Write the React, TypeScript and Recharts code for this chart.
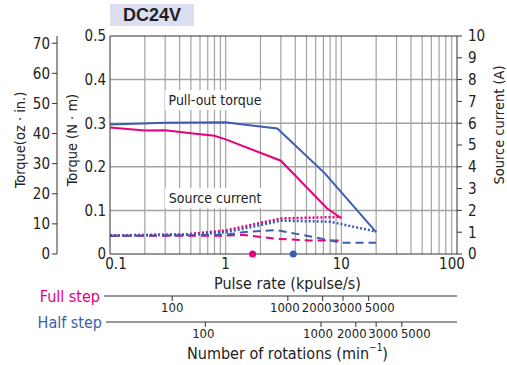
import * as React from "react";
import { ComposedChart, Line, XAxis, YAxis, ReferenceLine, ReferenceDot } from "recharts";

const FONT = "'Liberation Sans Narrow', 'DejaVu Sans Condensed', 'Roboto Condensed', sans-serif";
const PINK = "#e4007f";
const BLUE = "#3c5db1";
const GRID = "#a3a3a3";
const AXIS = "#333";
const INK = "#222";

// pulse rate (kpulse/s) -> pull-out torque (N·m)
const fullTorqueF = [0.1, 0.2, 0.3, 0.5, 0.8, 1, 3, 7.5, 10];
const fullTorque = [0.29, 0.283, 0.284, 0.277, 0.271, 0.263, 0.214, 0.105, 0.082];
const halfTorqueF = [0.1, 0.3, 1, 1.3, 2.8, 7.2, 20];
const halfTorque = [0.297, 0.301, 0.302, 0.298, 0.288, 0.185, 0.05];

// source current (A), dotted + dashed for each step mode
const fullDotF = [0.1, 0.45, 1, 1.4, 3, 10];
const fullDot = [0.85, 0.9, 1.08, 1.25, 1.63, 1.7];
const halfDotF = [0.1, 0.5, 1, 1.4, 3, 8, 20];
const halfDot = [0.85, 0.88, 1.0, 1.15, 1.53, 1.48, 1.03];
const fullDashF = [0.1, 1, 1.4, 2.7, 5.3, 10];
const fullDash = [0.84, 0.84, 0.88, 0.7, 0.62, 0.62];
const halfDashF = [0.1, 1, 1.4, 2.7, 5, 10, 20];
const halfDash = [0.83, 0.88, 1.0, 1.1, 0.84, 0.52, 0.52];

// markers on the pulse-rate axis
const markF = [1.71, 3.84];
const markColor = [PINK, BLUE];

// axes / grid
const pulseTicks = [0.1, 1, 10, 100];
const gridX = [0.2, 0.3, 0.4, 0.5, 0.6, 0.7, 0.8, 0.9, 1, 2, 3, 4, 5, 6, 7, 8, 9, 10, 20, 30, 40, 50, 60, 70, 80, 90];
const gridY = [0.1, 0.2, 0.3, 0.4];
const nmTicks = [0, 0.1, 0.2, 0.3, 0.4, 0.5];
const ozTicks = [0, 10, 20, 30, 40, 50, 60, 70];
const ampTicks = [0, 1, 2, 3, 4, 5, 6, 7, 8, 9, 10];
const rpmTicks = [100, 1000, 2000, 3000, 5000];
// label nudges so crowded labels sit side by side
const pulseNudge = [6, 0, 0, -5];
const fullNudge = [0, -3, -6, 4, 11];
const halfNudge = [-2, -3, -4, 7, 14];

const pts = (xs: number[], ys: number[]) => xs.map((f, i) => ({ f, v: ys[i] }));

const rotLabel = (text: string, dx: number, dy: number, angle = -90) => (props: any) => {
  const { x, y, height } = props.viewBox;
  const cx = x + dx;
  const cy = y + height / 2 + dy;
  return (
    <text x={cx} y={cy} transform={`rotate(${angle} ${cx} ${cy})`} textAnchor="middle"
      dominantBaseline="central" fontSize={14.5} fill={INK} fontFamily={FONT}>
      {text}
    </text>
  );
};

const nudgedTick = (ticks: number[], nudge: number[], size: number) => (p: any) => {
  const i = ticks.indexOf(p.payload.value);
  return (
    <text x={p.x + (nudge[i] || 0)} y={p.y} dy="0.71em" textAnchor="middle" fontSize={size}
      fill={INK} fontFamily={FONT}>
      {p.payload.value}
    </text>
  );
};

const stepLabel = (text: string, color: string, gap: number, title?: boolean) => (props: any) => {
  const { x, y, width } = props.viewBox;
  return (
    <g fontFamily={FONT}>
      <text x={x - gap - 4} y={y} textAnchor="end" dominantBaseline="central" fontSize={16} fill={color}>
        {text}
      </text>
      <line x1={x - gap} x2={x} y1={y} y2={y} stroke={AXIS} strokeWidth={1} />
      {title && (
        <text x={x + width / 2 + 4} y={y + 31} textAnchor="middle" dominantBaseline="central" fontSize={16} fill={INK}>
          Number of rotations (min
          <tspan fontSize={10} dy={-6}>−1</tspan>
          <tspan dy={6}>)</tspan>
        </text>
      )}
    </g>
  );
};

const note = (text: string) => (p: any) => (
  <g fontFamily={FONT}>
    <rect x={p.cx - 50} y={p.cy - 10} width={100} height={20} fill="#fff" />
    <text x={p.cx} y={p.cy} textAnchor="middle" dominantBaseline="central" fontSize={14} fill={INK}>
      {text}
    </text>
  </g>
);

const tickStyle = { fontSize: 15, fill: INK, fontFamily: FONT };

export default function App() {
  return (
    <div style={{ position: "relative", width: 507, height: 365, background: "#fff" }}>
      <style>{"body{margin:0}"}</style>
      <div
        style={{
          position: "absolute", left: 110, top: 4, width: 84, height: 22, background: "#dcdff1",
          fontFamily: "'Liberation Sans', Arial, sans-serif", fontWeight: 700, fontSize: 18,
          color: "#231f20", textAlign: "center", lineHeight: "22px",
        }}
      >
        DC24V
      </div>
      <ComposedChart width={507} height={365} margin={{ top: 36, right: 0, bottom: 0, left: 0 }}>
        <XAxis xAxisId="x0" type="number" dataKey="f" scale="log" domain={[0.1, 100]} allowDataOverflow
          ticks={pulseTicks} interval={0} tickLine={false} tickSize={2} tickMargin={2} height={42}
          stroke={AXIS} tick={nudgedTick(pulseTicks, pulseNudge, 15)}
          label={(props: any) => {
            const { x, y, width } = props.viewBox;
            return (
              <text x={x + width / 2 + 4} y={y + 29} textAnchor="middle" dominantBaseline="central"
                fontSize={16} fill={INK} fontFamily={FONT}>
                Pulse rate (kpulse/s)
              </text>
            );
          }} />
        <XAxis xAxisId="x1" type="number" dataKey="rpm" scale="log" domain={[29, 29000]} allowDataOverflow
          ticks={rpmTicks} interval={0} tickSize={5} tickMargin={2} height={26} stroke={AXIS}
          tick={nudgedTick(rpmTicks, fullNudge, 13)} label={stepLabel("Full step", PINK, 6)} />
        <XAxis xAxisId="x2" type="number" dataKey="rpm" scale="log" domain={[15, 15000]} allowDataOverflow
          ticks={rpmTicks} interval={0} tickSize={5} tickMargin={2} height={43} stroke={AXIS}
          tick={nudgedTick(rpmTicks, halfNudge, 13)} label={stepLabel("Half step", BLUE, 4, true)} />

        <YAxis yAxisId="nm" orientation="left" type="number" domain={[0, 0.5]} ticks={nmTicks} interval={0}
          width={53} tickLine={false} tickSize={2} tickMargin={2} stroke={AXIS} tick={tickStyle}
          tickFormatter={(v) => (v === 0 ? "0" : v.toFixed(1))}
          label={rotLabel("Torque (N · m)", 15, -5)} />
        <YAxis yAxisId="oz" orientation="left" type="number" domain={[0, 72.4]} allowDataOverflow ticks={ozTicks}
          interval={0} width={57} tickSize={5} tickMargin={2} stroke={AXIS} tick={tickStyle}
          label={rotLabel("Torque(oz · in.)", 20, -5)} />
        <YAxis yAxisId="a" orientation="right" type="number" domain={[0, 10]} ticks={ampTicks} interval={0}
          width={50} tickSize={5} tickMargin={6} stroke={AXIS} tick={tickStyle}
          label={rotLabel("Source current (A)", 42, -20)} />

        {gridX.map((g) => (
          <ReferenceLine key={`gx${g}`} xAxisId="x0" yAxisId="nm" x={g} stroke={GRID} strokeWidth={1.2} />
        ))}
        {gridY.map((g) => (
          <ReferenceLine key={`gy${g}`} xAxisId="x0" yAxisId="nm" y={g} stroke={GRID} strokeWidth={1.5} />
        ))}
        <ReferenceLine xAxisId="x0" yAxisId="nm" y={0.5} stroke={AXIS} strokeWidth={1.2} />

        <ReferenceDot xAxisId="x0" yAxisId="nm" x={0.81} y={0.353} r={1} shape={note("Pull-out torque")} />
        <ReferenceDot xAxisId="x0" yAxisId="nm" x={0.81} y={0.128} r={1} shape={note("Source current")} />

        <Line xAxisId="x0" yAxisId="nm" data={pts(fullTorqueF, fullTorque)} dataKey="v" type="linear"
          stroke={PINK} strokeWidth={2} dot={false} isAnimationActive={false} />
        <Line xAxisId="x0" yAxisId="nm" data={pts(halfTorqueF, halfTorque)} dataKey="v" type="linear"
          stroke={BLUE} strokeWidth={2} dot={false} isAnimationActive={false} />
        <Line xAxisId="x0" yAxisId="a" data={pts(fullDotF, fullDot)} dataKey="v" type="linear"
          stroke={PINK} strokeWidth={2.5} strokeDasharray="2 2" dot={false} isAnimationActive={false} />
        <Line xAxisId="x0" yAxisId="a" data={pts(halfDotF, halfDot)} dataKey="v" type="linear"
          stroke={BLUE} strokeWidth={2.5} strokeDasharray="2 2" dot={false} isAnimationActive={false} />
        <Line xAxisId="x0" yAxisId="a" data={pts(fullDashF, fullDash)} dataKey="v" type="linear"
          stroke={PINK} strokeWidth={2} strokeDasharray="8 5" dot={false} isAnimationActive={false} />
        <Line xAxisId="x0" yAxisId="a" data={pts(halfDashF, halfDash)} dataKey="v" type="linear"
          stroke={BLUE} strokeWidth={2} strokeDasharray="8 5" dot={false} isAnimationActive={false} />

        {markF.map((m, i) => (
          <ReferenceDot key={`m${i}`} xAxisId="x0" yAxisId="nm" x={m} y={0} r={3.5}
            fill={markColor[i]} stroke="none" ifOverflow="visible" />
        ))}
      </ComposedChart>
    </div>
  );
}
